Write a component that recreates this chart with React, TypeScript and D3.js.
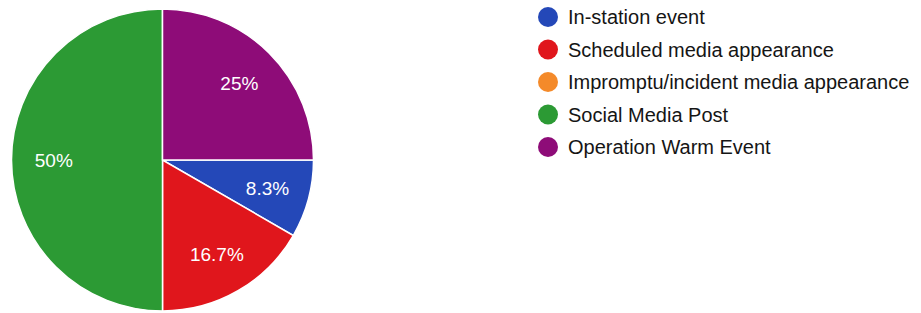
import React from "react";
import * as d3 from "d3";

const categories = [
  "In-station event",
  "Scheduled media appearance",
  "Impromptu/incident media appearance",
  "Social Media Post",
  "Operation Warm Event",
];
const values = [1, 2, 0, 6, 3];
const colors = ["#2448b8", "#e0161c", "#f48a2a", "#2c9a34", "#8e0c78"];

const W = 921;
const H = 313;
const cx = 162.5;
const cy = 160;
const R = 151;

export default function App() {
  const pie = d3
    .pie<number>()
    .sort(null)
    .startAngle(Math.PI / 2)
    .endAngle(Math.PI / 2 + 2 * Math.PI);
  const arcs = pie(values);
  const arc = d3.arc<d3.PieArcDatum<number>>().innerRadius(0).outerRadius(R);
  const labelArc = d3
    .arc<d3.PieArcDatum<number>>()
    .innerRadius(R * 0.72)
    .outerRadius(R * 0.72);
  const total = d3.sum(values);
  const fmt = (v: number) => {
    const p = (v / total) * 100;
    return (Math.round(p * 10) / 10).toString() + "%";
  };
  const legendY = d3
    .scalePoint<string>()
    .domain(categories)
    .range([17, 147]);

  return (
    <svg
      width={W}
      height={H}
      style={{ position: "absolute", left: 0, top: 0, background: "#fff" }}
      fontFamily="'Liberation Sans', Arial, sans-serif"
    >
      <g transform={`translate(${cx},${cy})`}>
        {arcs.map((a, i) =>
          a.value > 0 ? (
            <path key={i} d={arc(a) || ""} fill={colors[i]} stroke="#fff" strokeWidth={1.5} />
          ) : null
        )}
        {arcs.map((a, i) => {
          if (a.value <= 0) return null;
          const [x, y] = labelArc.centroid(a);
          return (
            <text
              key={"l" + i}
              x={x}
              y={y}
              dy="0.36em"
              textAnchor="middle"
              fill="#fff"
              fontSize={19}
            >
              {fmt(a.value)}
            </text>
          );
        })}
      </g>
      <g>
        {categories.map((c, i) => (
          <g key={c} transform={`translate(548,${legendY(c)})`}>
            <circle r={10} fill={colors[i]} />
            <text x={20} dy="0.36em" fontSize={20} fill="#151515">
              {c}
            </text>
          </g>
        ))}
      </g>
    </svg>
  );
}
